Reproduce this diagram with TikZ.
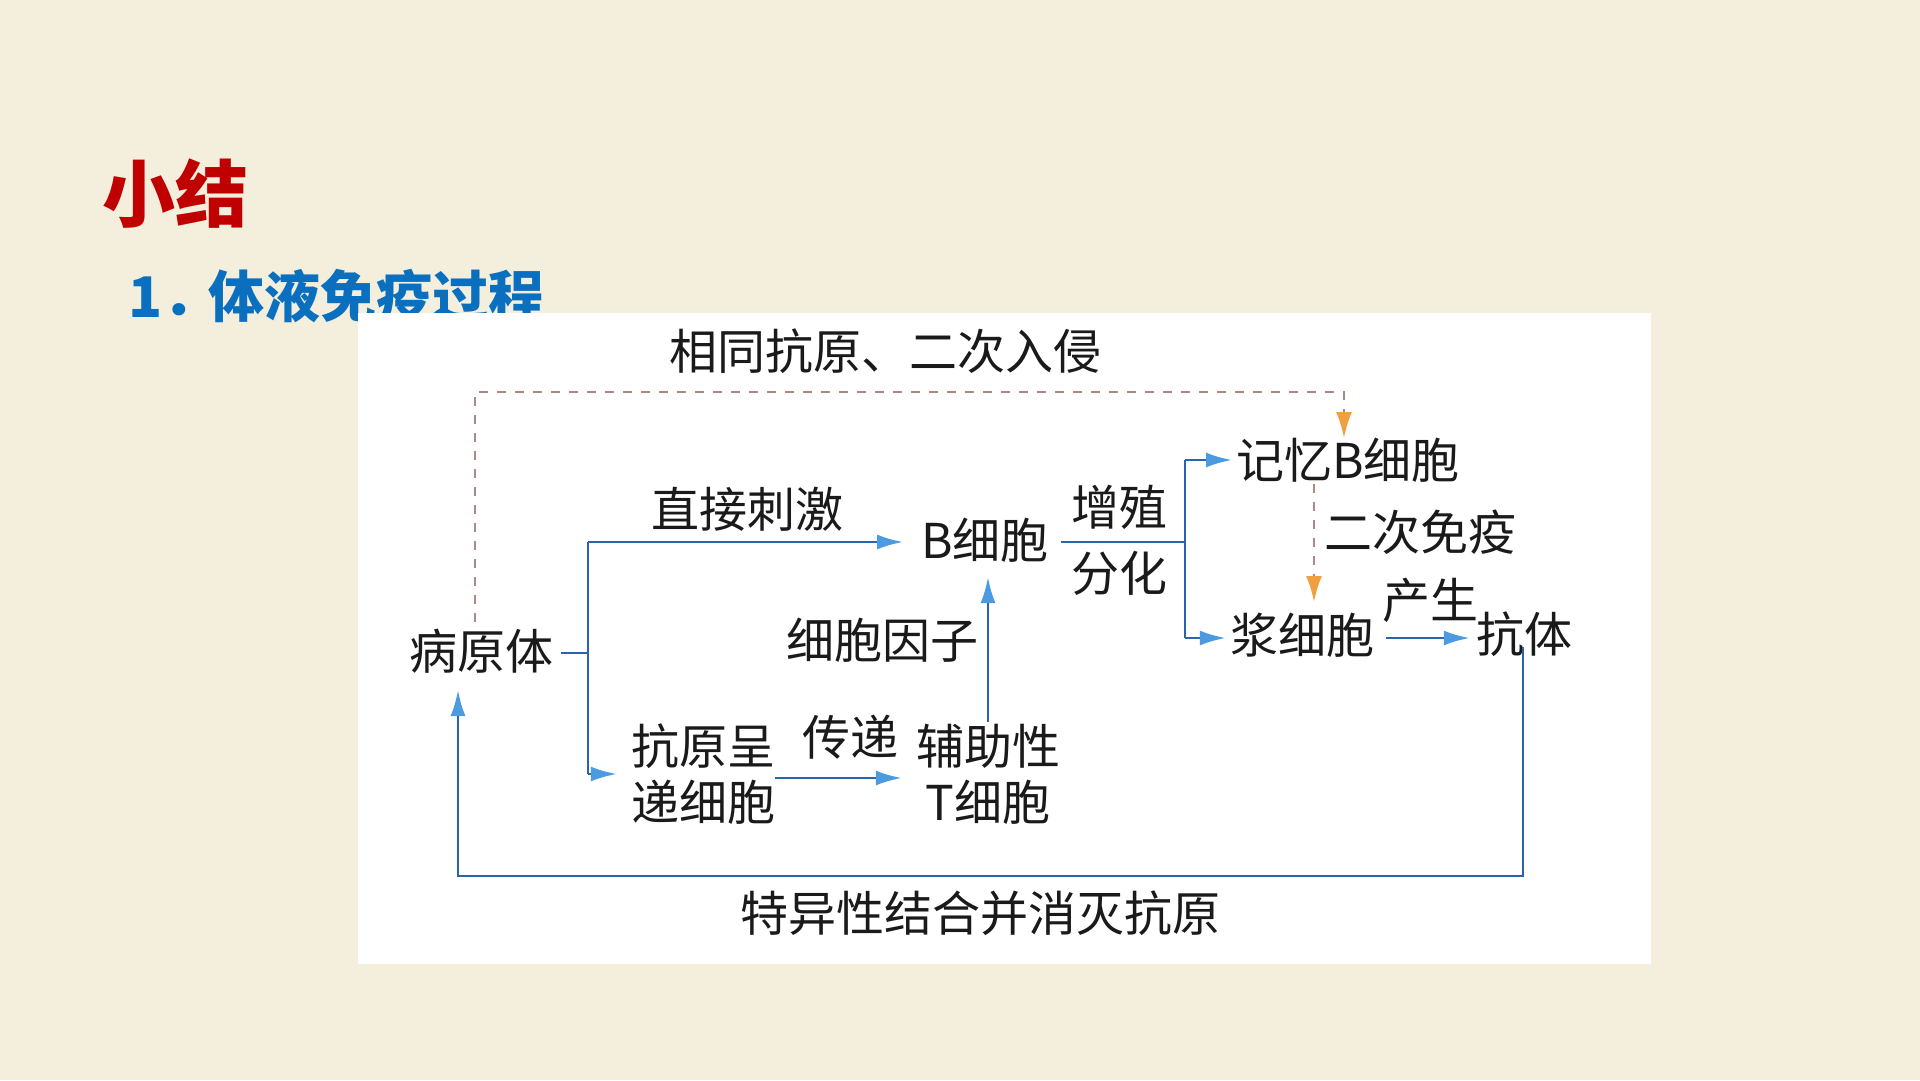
\documentclass[tikz,border=0pt]{standalone}
\usepackage{fontspec}
\setmainfont{Noto Sans CJK SC}
\usetikzlibrary{arrows.meta}
\definecolor{bgcol}{HTML}{F4EFDD}
\definecolor{titlered}{HTML}{C00000}
\definecolor{titleblue}{HTML}{0B6FC0}
\definecolor{bline}{HTML}{2A64AE}
\definecolor{bhead}{HTML}{4C9BE0}
\definecolor{dashcol}{HTML}{A88A86}
\definecolor{orangehead}{HTML}{F0A040}
\definecolor{txt}{HTML}{1A1A1A}
\begin{document}
\begin{tikzpicture}[x=1pt,y=-1pt,
  lbl/.style={inner sep=0pt, text=txt, font=\fontsize{48}{56}\selectfont, align=center},
  bl/.style={draw=bline, line width=2.6pt},
  arr/.style={bl, -{Latex[length=26pt,width=15pt,color=bhead]}},
  dsh/.style={draw=dashcol, line width=2.2pt, dash pattern=on 9pt off 9pt},
  darr/.style={dsh, -{Latex[length=26pt,width=16pt,color=orangehead]}}]
\useasboundingbox (0,0) rectangle (1920,1080);
\fill[bgcol] (0,0) rectangle (1920,1080);
% titles
\node[anchor=west, inner sep=0pt, text=titlered, font=\fontsize{73}{80}\selectfont\bfseries] (t1) at (102,194) {小结};
\node[anchor=west, inner sep=0pt, text=titleblue, font=\fontsize{56}{62}\selectfont\bfseries] (t2) at (128,296) {1．\hspace{-10pt}体液免疫过程};
% white panel
\fill[white] (358,313) rectangle (1651,964);
% nodes
\node[lbl] (toplbl) at (885,351) {相同抗原、二次入侵};
\node[lbl, anchor=west] (memB) at (1236,460) {记忆B细胞};
\node[lbl] (bcell) at (985,540) {B细胞};
\node[lbl] (zz) at (1119,507) {增殖};
\node[lbl] (fh) at (1119,573) {分化};
\node[lbl] (zj) at (747,509) {直接刺激};
\node[lbl] (path) at (481,651) {病原体};
\node[lbl] (apc) at (703,774) {抗原呈\\递细胞};
\node[lbl] (cd) at (850,737) {传递};
\node[lbl] (th) at (988,774) {辅助性\\T细胞};
\node[lbl] (cyto) at (882,640) {细胞因子};
\node[lbl] (plasma) at (1302,635) {浆细胞};
\node[lbl] (ercimy) at (1420,532) {二次免疫};
\node[lbl] (cs) at (1430,600) {产生};
\node[lbl] (ab) at (1524,634) {抗体};
\node[lbl] (bottom) at (980,913) {特异性结合并消灭抗原};
% coordinates
\coordinate (j1) at (588,542);
\coordinate (j2) at (588,774);
\coordinate (j3) at (0,778);
\coordinate (br) at (1185,542);
\coordinate (bt) at (1185,460);
\coordinate (bb) at (1185,638);
\coordinate (cyb) at (988,722);
\coordinate (cyt) at (988,577);
\coordinate (lr) at (1523,876);
\coordinate (lb) at (458,876);
\coordinate (lt) at (458,690);
\coordinate (d1) at (475,622);
\coordinate (d2) at (475,392);
\coordinate (d3) at (1344,392);
\coordinate (d4) at (1344,438);
\coordinate (e1) at (1314,484);
\coordinate (e2) at (1314,602);
% connectors
\draw[bl] ([xshift=8pt]path.east |- 0,653) -- (j1 |- 0,653);
\draw[bl] (j2) -- (j1);
\draw[arr] (j1) -- ([xshift=-18pt]j1 -| bcell.west);
\draw[arr] (j2) -- ([xshift=-14pt]j2 -| apc.west);
\draw[arr] (apc.east |- j3) -- ([xshift=-14pt]th.west |- j3);
\draw[arr] (cyb) -- (cyt);
\draw[bl] ([xshift=12pt]bcell.east |- br) -- (br);
\draw[bl] (bt) -- (bb);
\draw[arr] (bt) -- ([xshift=-4pt]memB.west |- bt);
\draw[arr] (bb) -- ([xshift=-4pt]plasma.west |- bb);
\draw[arr] ([xshift=12pt]plasma.east |- bb) -- ([xshift=-6pt]ab.west |- bb);
\draw[arr] ([yshift=10pt]ab.south -| lr) -- (lr) -- (lb) -- (lt);
\draw[darr] (d1) -- (d2) -- (d3) -- (d4);
\draw[darr] (e1) -- (e2);
\end{tikzpicture}
\end{document}
